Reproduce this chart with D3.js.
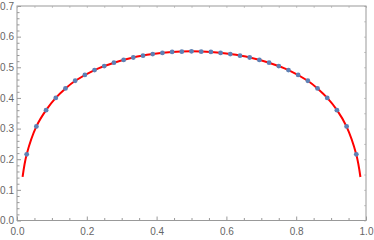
<!DOCTYPE html>
<html>
<head>
<meta charset="utf-8">
<script src="https://cdn.jsdelivr.net/npm/d3@7"></script>
<style>
  body { margin: 0; background: #fff; }
  .tick text { font-family: "Liberation Sans", Arial, sans-serif; font-size: 10px; fill: #666; }
</style>
</head>
<body>
<div id="chart"></div>
<script>
// sampled points (blue dots)
const pointX = [1/36, 2/36, 3/36, 4/36, 5/36, 6/36, 7/36, 8/36, 9/36, 10/36, 11/36, 12/36,
                13/36, 14/36, 15/36, 16/36, 17/36, 18/36, 19/36, 20/36, 21/36, 22/36, 23/36, 24/36,
                25/36, 26/36, 27/36, 28/36, 29/36, 30/36, 31/36, 32/36, 33/36, 34/36, 35/36];
const pointY = [0.216, 0.307, 0.360, 0.400, 0.431, 0.456, 0.475, 0.491, 0.504, 0.515, 0.524, 0.532,
                0.538, 0.543, 0.547, 0.550, 0.551, 0.552, 0.551, 0.550, 0.547, 0.543, 0.538, 0.532,
                0.524, 0.515, 0.504, 0.491, 0.475, 0.456, 0.431, 0.400, 0.360, 0.307, 0.216];

// red curve
const curveX = [0.016, 0.0278, 0.0556, 0.0833, 0.111, 0.139, 0.167, 0.222, 0.278, 0.333, 0.389, 0.444,
                0.5, 0.556, 0.611, 0.667, 0.722, 0.778, 0.833, 0.861, 0.889, 0.917, 0.944, 0.972, 0.984];
const curveY = [0.142, 0.216, 0.307, 0.360, 0.400, 0.431, 0.456, 0.491, 0.515, 0.532, 0.543, 0.550,
                0.552, 0.550, 0.543, 0.532, 0.515, 0.491, 0.456, 0.431, 0.400, 0.360, 0.307, 0.216, 0.142];

const xMajor = [0, 0.2, 0.4, 0.6, 0.8, 1.0];
const yMajor = [0, 0.1, 0.2, 0.3, 0.4, 0.5, 0.6, 0.7];

const width = 374, height = 240;
const plotLeft = 17, plotRight = 366, plotTop = 6, plotBottom = 220.5;

const svg = d3.select("#chart").append("svg")
    .attr("width", width)
    .attr("height", height);

const x = d3.scaleLinear().domain([0, 1]).range([plotLeft, plotRight]);
const y = d3.scaleLinear().domain([0, 0.7]).range([plotBottom, plotTop]);

const xMinor = d3.range(0, 1.0001, 0.05).filter(v => !xMajor.some(m => Math.abs(m - v) < 1e-6));
const yMinor = d3.range(0, 0.7001, 0.02).filter(v => !yMajor.some(m => Math.abs(m - v) < 1e-6));
const y05 = d3.range(0, 0.7001, 0.05);

function styleAxis(g, col) {
    g.select(".domain").remove();
    g.selectAll(".tick line").attr("stroke", col);
}

// bottom axis
svg.append("g").attr("transform", `translate(0,${plotBottom})`)
    .call(d3.axisBottom(x).tickValues(xMajor).tickSize(-4).tickPadding(7).tickFormat(d3.format(".1f")))
    .call(g => styleAxis(g, "#999"));
svg.append("g").attr("transform", `translate(0,${plotBottom})`)
    .call(d3.axisBottom(x).tickValues(xMinor).tickSize(-2.5).tickFormat(""))
    .call(g => styleAxis(g, "#999"));

// left axis
svg.append("g").attr("transform", `translate(${plotLeft},0)`)
    .call(d3.axisLeft(y).tickValues(yMajor).tickSize(-4).tickPadding(3).tickFormat(d3.format(".1f")))
    .call(g => styleAxis(g, "#999"));
svg.append("g").attr("transform", `translate(${plotLeft},0)`)
    .call(d3.axisLeft(y).tickValues(yMinor).tickSize(-2.5).tickFormat(""))
    .call(g => styleAxis(g, "#999"));

// top and right frame ticks (faint)
svg.append("g").attr("transform", `translate(0,${plotTop})`)
    .call(d3.axisTop(x).tickValues(d3.range(0, 1.0001, 0.05)).tickSize(-2).tickFormat(""))
    .call(g => styleAxis(g, "#ccc"));
svg.append("g").attr("transform", `translate(${plotRight},0)`)
    .call(d3.axisRight(y).tickValues(y05).tickSize(-2).tickFormat(""))
    .call(g => styleAxis(g, "#ccc"));

// frame
svg.append("rect")
    .attr("x", plotLeft).attr("y", plotTop)
    .attr("width", plotRight - plotLeft).attr("height", plotBottom - plotTop)
    .attr("fill", "none")
    .attr("stroke", "#999")
    .attr("stroke-width", 1);

// red curve
const line = d3.line()
    .x((d, i) => x(curveX[i]))
    .y(d => y(d))
    .curve(d3.curveCatmullRom.alpha(0.5));

svg.append("path")
    .datum(curveY)
    .attr("d", line)
    .attr("fill", "none")
    .attr("stroke", "#ff0000")
    .attr("stroke-width", 2);

// dots
svg.selectAll(".dot")
    .data(pointY)
    .enter()
    .append("circle")
    .attr("class", "dot")
    .attr("cx", (d, i) => x(pointX[i]))
    .attr("cy", d => y(d))
    .attr("r", 2.4)
    .style("fill", "#5e81b5");
</script>
</body>
</html>
